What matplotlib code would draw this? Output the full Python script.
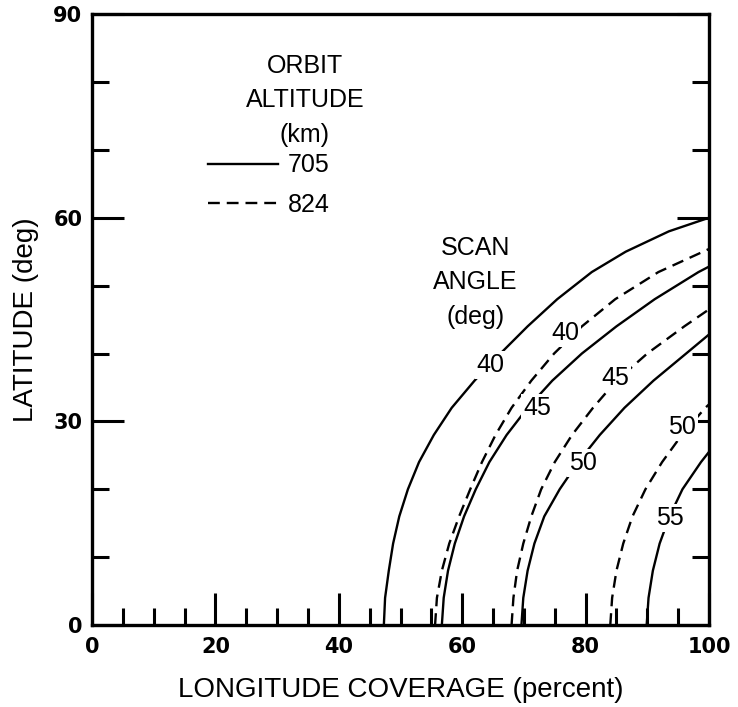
import matplotlib
matplotlib.use("Agg")
import matplotlib.pyplot as plt
from matplotlib.lines import Line2D

plt.rcParams['font.family'] = ['Liberation Sans', 'DejaVu Sans']
plt.rcParams['lines.scale_dashes'] = False

# --- values (longitude coverage %, latitude deg) ---
# 705 km orbit (solid)
lat_705_40 = [0, 4, 8, 12, 16, 20, 24, 28, 32, 36, 40, 44, 48, 52, 55, 58, 60]
cov_705_40 = [47.3, 47.5, 48.1, 48.8, 49.8, 51.2, 53.0, 55.4, 58.3, 62.0, 66.2, 70.6, 75.4, 81.0, 86.5, 93.5, 100]
lat_705_45 = [0, 4, 8, 12, 16, 20, 24, 28, 32, 36, 40, 44, 48, 52, 52.8]
cov_705_45 = [56.7, 57.0, 57.7, 58.8, 60.3, 62.2, 64.4, 67.2, 70.6, 74.6, 79.4, 85.0, 91.2, 98.3, 100]
lat_705_50 = [0, 4, 8, 12, 16, 20, 24, 28, 32, 36, 40, 42.8]
cov_705_50 = [69.6, 69.9, 70.6, 71.7, 73.3, 75.8, 78.8, 82.3, 86.3, 91.0, 96.3, 100]
lat_705_55 = [0, 4, 8, 12, 16, 20, 24, 25.5]
cov_705_55 = [89.9, 90.2, 90.9, 92.0, 93.6, 95.7, 98.7, 100]

# 824 km orbit (dashed)
lat_824_40 = [0, 4, 8, 12, 16, 20, 24, 28, 32, 36, 40, 44, 48, 52, 55.4]
cov_824_40 = [55.6, 55.9, 56.7, 57.9, 59.5, 61.3, 63.2, 65.4, 68.0, 71.2, 74.9, 79.4, 84.8, 91.8, 100]
lat_824_45 = [0, 4, 8, 12, 16, 20, 24, 28, 32, 36, 40, 44, 46.5]
cov_824_45 = [68.0, 68.3, 68.9, 69.9, 71.2, 72.8, 75.0, 77.8, 81.2, 85.0, 90.0, 96.0, 100]
lat_824_50 = [0, 4, 8, 12, 16, 20, 24, 28, 32, 32.5]
cov_824_50 = [84.0, 84.3, 85.0, 86.1, 87.6, 89.7, 92.4, 95.6, 99.4, 100]

altitudes = ['705', '824']
scan_705 = ['40', '45', '50', '55']
scan_824 = ['40', '45', '50']

curves_705 = [(cov_705_40, lat_705_40), (cov_705_45, lat_705_45),
              (cov_705_50, lat_705_50), (cov_705_55, lat_705_55)]
curves_824 = [(cov_824_40, lat_824_40), (cov_824_45, lat_824_45),
              (cov_824_50, lat_824_50)]

# where the scan-angle numbers sit on each curve
label_pos_705 = [(64.6, 38.3), (72.1, 32.0), (79.6, 23.8), (93.7, 15.8)]
label_pos_824 = [(76.7, 43.0), (84.8, 36.4), (95.6, 29.2)]

DASH = (8.5, 5.0)
LW = 1.7

fig = plt.figure(figsize=(7.38, 7.07), dpi=100)
ax = fig.add_axes([0.1247, 0.116, 0.836, 0.864])

for (x, y) in curves_705:
    ax.plot(x, y, color='black', lw=LW, solid_joinstyle='round')
for (x, y) in curves_824:
    ax.plot(x, y, color='black', lw=LW, dashes=DASH)

lbl = dict(fontsize=18, ha='center', va='center', zorder=5,
           bbox=dict(facecolor='white', edgecolor='none', pad=1.5))
for s, (x, y) in zip(scan_705, label_pos_705):
    ax.text(x, y, s, **lbl)
for s, (x, y) in zip(scan_824, label_pos_824):
    ax.text(x, y, s, **lbl)

# annotations
ax.text(62.1, 50.5, 'SCAN\nANGLE\n(deg)', fontsize=18, ha='center', va='center',
        linespacing=1.55)
ax.text(34.5, 77.3, 'ORBIT\nALTITUDE\n(km)', fontsize=18, ha='center', va='center',
        linespacing=1.55)

handles = [Line2D([], [], color='black', lw=LW),
           Line2D([], [], color='black', lw=LW, dashes=DASH)]
ax.legend(handles, altitudes, loc='upper left', bbox_to_anchor=(0.188, 0.772),
          frameon=False, fontsize=18, handlelength=2.8, handletextpad=0.4,
          labelspacing=0.62, borderpad=0, borderaxespad=0)

ax.set_xlim(0, 100)
ax.set_ylim(0, 90)
ax.set_xticks(range(0, 101, 20))
ax.set_xticks(range(5, 100, 5), minor=True)
ax.set_yticks([0, 30, 60, 90])
ax.set_yticks([10, 20, 40, 50, 70, 80], minor=True)
ax.tick_params(which='both', direction='in', width=2.2, top=False, right=True,
               labelsize=15)
ax.tick_params(which='major', length=23, pad=7)
ax.tick_params(axis='x', which='major', pad=9)
ax.tick_params(which='minor', length=12)
for t in ax.get_xticklabels() + ax.get_yticklabels():
    t.set_fontweight('bold')
    t.set_fontfamily('DejaVu Sans')
for sp in ax.spines.values():
    sp.set_linewidth(2.4)

ax.set_xlabel('LONGITUDE COVERAGE (percent)', fontsize=20, labelpad=14)
ax.set_ylabel('LATITUDE (deg)', fontsize=20, labelpad=10)

fig.savefig('out.png', dpi=100)
